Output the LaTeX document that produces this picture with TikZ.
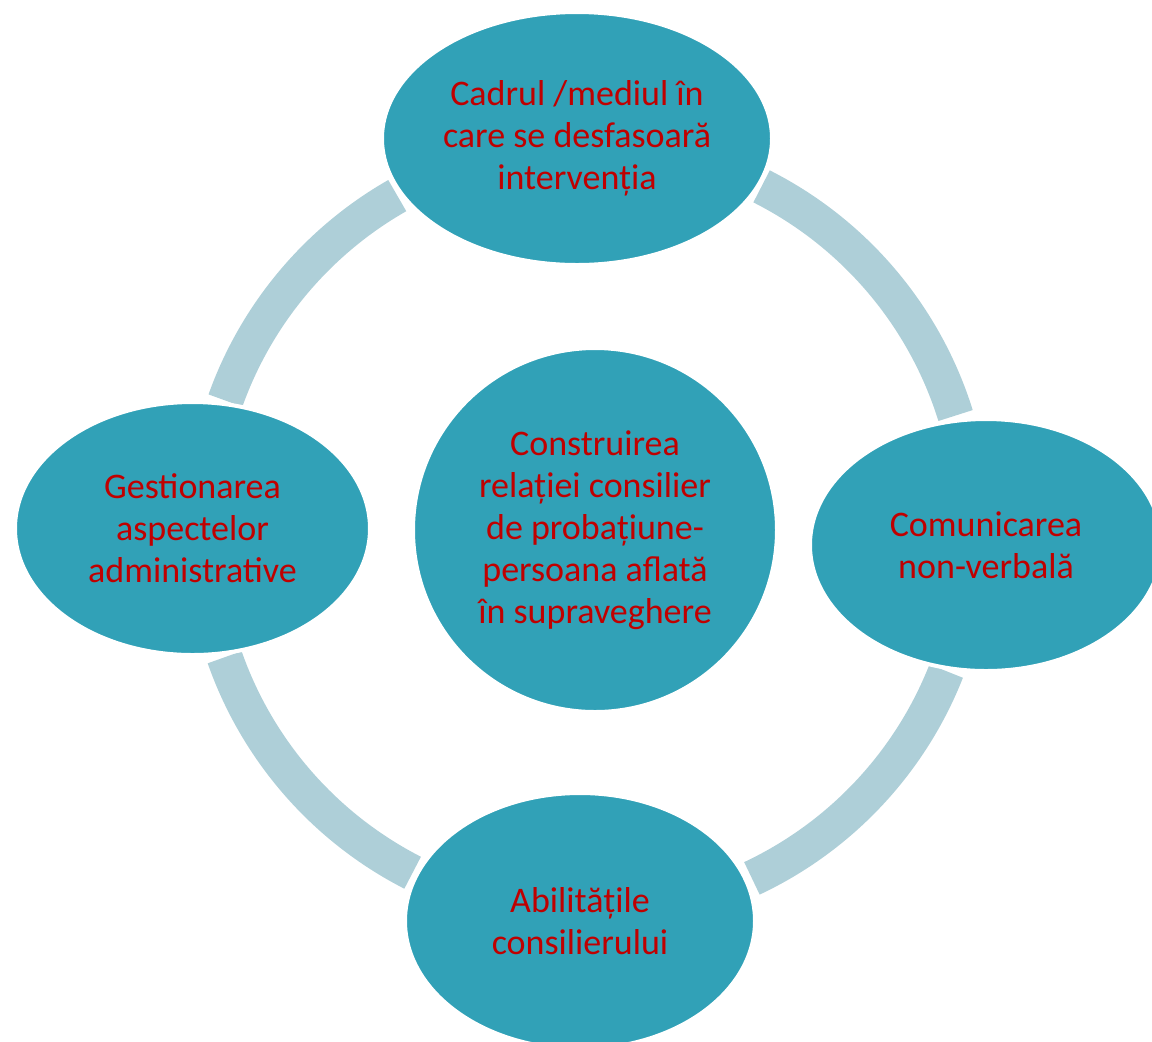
\documentclass[tikz,border=0pt]{standalone}
\usepackage{fontspec}
\setmainfont{Carlito}
\usetikzlibrary{shapes.geometric}
\definecolor{nodefill}{HTML}{31A1B7}
\definecolor{arcblue}{HTML}{AECFD8}
\definecolor{txtred}{HTML}{C00000}
\begin{document}
\begin{tikzpicture}[x=0.5pt,y=-0.5pt,
  bubble/.style={ellipse, fill=nodefill, draw=white, line width=2pt, inner sep=0pt,
    align=center, text=txtred, font=\fontsize{18}{21}\selectfont},
  ring/.style={draw=arcblue, line width=18pt, line cap=butt}]
\useasboundingbox (0,0) rectangle (1152,1041);
\clip (0,0) rectangle (1152,1041);
\coordinate (hub) at (588,530);
% ring segments
\draw[ring] (hub) ++(-119.7:385) arc[start angle=-119.7, end angle=-160.35, radius=385];
\draw[ring] (hub) ++(160.7:385) arc[start angle=160.7, end angle=117.1, radius=385];
\draw[ring] (hub) ++(64.8:385) arc[start angle=64.8, end angle=21.5, radius=385];
\draw[ring] (hub) ++(-17.3:385) arc[start angle=-17.3, end angle=-63.2, radius=385];
% nodes
\node[bubble, minimum width=195pt, minimum height=126.5pt] (top) at (577,138.5)
  {Cadrul /mediul în\\care se desfasoară\\intervenția};
\node[bubble, minimum width=177.5pt, minimum height=126.5pt] (left) at (192.5,528.5)
  {Gestionarea\\aspectelor\\administrative};
\node[bubble, minimum width=176pt, minimum height=126pt] (right) at (986,545)
  {Comunicarea\\non-verbală};
\node[bubble, minimum width=175pt, minimum height=128pt] (bottom) at (580,921)
  {Abilitățile\\consilierului};
\node[bubble, minimum width=182pt, minimum height=182pt] (center) at (595,530)
  {Construirea\\relației consilier\\de probațiune-\\persoana aflată\\în supraveghere};
\end{tikzpicture}
\end{document}
